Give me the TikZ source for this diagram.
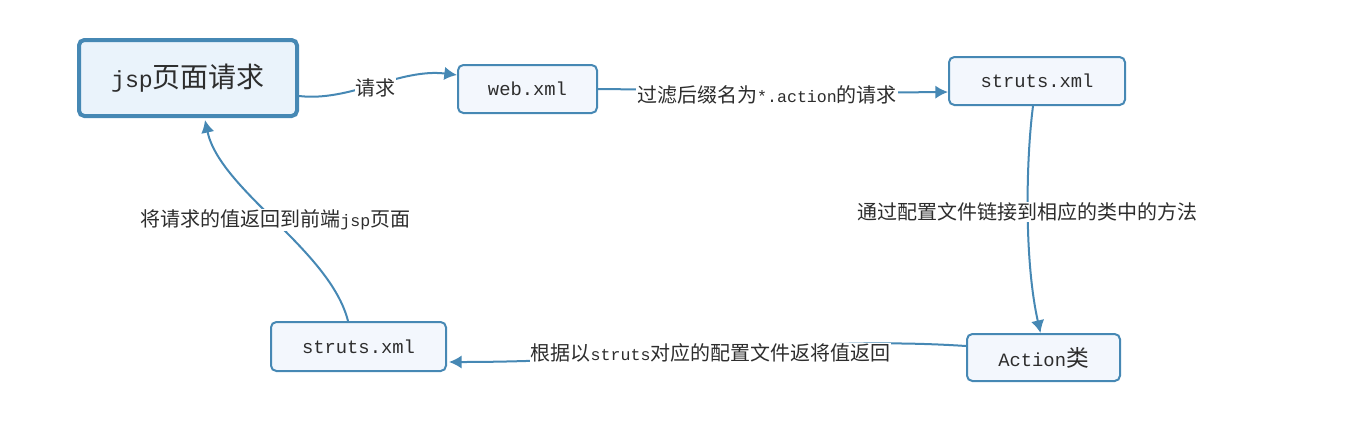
\documentclass[tikz,border=0pt]{standalone}
\usepackage{fontspec}
\setmainfont{Noto Sans CJK SC}
\newfontfamily\mono{Liberation Mono}[Scale=0.83]
\usetikzlibrary{arrows.meta,calc}
\definecolor{bd}{RGB}{70,136,180}
\definecolor{fa}{RGB}{234,243,251}
\definecolor{fb}{RGB}{243,247,253}
\definecolor{tx}{RGB}{45,45,45}
\tikzset{
 box/.style={draw=bd, fill=fb, rounded corners=4pt, line width=1.5pt, text=tx, font=\fontsize{17}{20}\selectfont, inner sep=0pt},
 edge/.style={draw=bd, line width=1.5pt, -{Latex[length=9.5pt,width=10pt]}},
 lbl/.style={fill=white, text=tx, font=\fontsize{15}{18}\selectfont, inner sep=0.5pt},
}
\begin{document}
\begin{tikzpicture}[x=0.75pt,y=-0.75pt]
\useasboundingbox (0,0) rectangle (1348,437);
\node[box, fill=fa, line width=3pt, minimum width=163.5pt, minimum height=57pt, font=\fontsize{21}{24}\selectfont] (jsp) at (188,78) {{\mono jsp}页面请求};
\node[box, minimum width=104.25pt, minimum height=36pt] (web) at (527.5,89) {\mono web.xml};
\node[box, minimum width=132pt, minimum height=36pt] (st1) at (1037,81) {\mono struts.xml};
\node[box, minimum width=114.75pt, minimum height=35.25pt] (act) at (1043.5,357.5) {{\mono Action}类};
\node[box, minimum width=131.25pt, minimum height=36.75pt] (st2) at (358.5,346.5) {\mono struts.xml};

\draw[edge] ($(jsp.east)+(0,18)$) .. controls (350,102) and (400,68) .. ($(web.west)+(0,-14)$)
  node[lbl, pos=0.5, yshift=-2pt] {请求};
\draw[edge] (web.east) .. controls (700,90) and (850,93) .. ($(st1.west)+(0,11)$)
  node[lbl, pos=0.48, yshift=-3pt] {过滤后缀名为{\mono *.action}的请求};
\draw[edge] ($(st1.south)+(-4,0)$) .. controls (1026,160) and (1024,260) .. ($(act.north)+(-3,0)$)
  node[lbl, pos=0.5] {通过配置文件链接到相应的类中的方法};
\draw[edge] ($(act.west)+(0,-11.5)$) .. controls (800,335) and (650,362) .. ($(st2.east)+(2,15.5)$)
  node[lbl, pos=0.52, yshift=-2pt] {根据以{\mono struts}对应的配置文件返将值返回};
\draw[edge] ($(st2.north)+(-10.5,0)$) .. controls (330,250) and (220,190) .. ($(jsp.south)+(17,2)$)
  node[lbl, pos=0.5] {将请求的值返回到前端{\mono jsp}页面};
\end{tikzpicture}
\end{document}
